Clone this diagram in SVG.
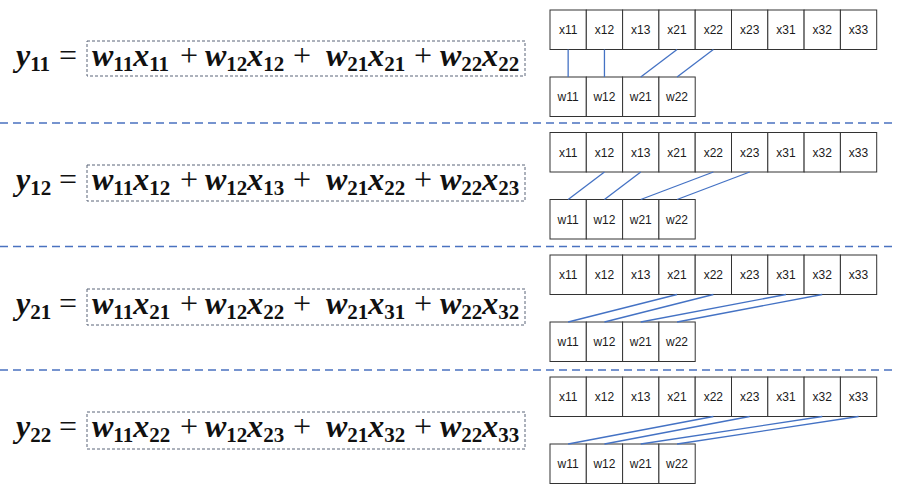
<svg xmlns="http://www.w3.org/2000/svg" width="903" height="496" viewBox="0 0 903 496">
<style>
.cell{fill:#fff;stroke:#333;stroke-width:1}
.lbl{font-family:"Liberation Sans",Arial,sans-serif;font-size:12px;fill:#1a1a1a;text-anchor:middle}
.eq{font-family:"Liberation Serif","Times New Roman",serif;font-size:32px;font-weight:bold;font-style:italic;fill:#111}
.sb{font-size:21px;font-style:normal}
.op{font-style:normal;font-weight:normal}
.ebox{fill:none;stroke:#5a6478;stroke-width:1;stroke-dasharray:3 2}
.sep{stroke:#4a72c0;stroke-width:1.5;stroke-dasharray:8 5}
.con{stroke:#4472c4;stroke-width:1.3}
</style>
<rect width="903" height="496" fill="#fff"/>
<g id="separators">
<line class="sep" x1="0" y1="123" x2="893" y2="123"/>
<line class="sep" x1="0" y1="246.5" x2="893" y2="246.5"/>
<line class="sep" x1="0" y1="370" x2="893" y2="370"/>
</g>
<g id="eq1">
<rect class="ebox" x="87" y="41" width="438" height="35"/>
<text class="eq" y="66"><tspan x="16">y</tspan><tspan class="sb" dy="5">11</tspan><tspan class="op" x="59" dy="-5">=</tspan><tspan x="92">w</tspan><tspan class="sb" dy="5">11</tspan><tspan dy="-5">x</tspan><tspan class="sb" dy="5">11</tspan><tspan class="op" x="180" dy="-5">+</tspan><tspan x="205">w</tspan><tspan class="sb" dy="5">12</tspan><tspan dy="-5">x</tspan><tspan class="sb" dy="5">12</tspan><tspan class="op" x="293" dy="-5">+</tspan><tspan x="326">w</tspan><tspan class="sb" dy="5">21</tspan><tspan dy="-5">x</tspan><tspan class="sb" dy="5">21</tspan><tspan class="op" x="414" dy="-5">+</tspan><tspan x="440">w</tspan><tspan class="sb" dy="5">22</tspan><tspan dy="-5">x</tspan><tspan class="sb" dy="5">22</tspan></text>
</g>
<g id="eq2">
<rect class="ebox" x="87" y="165" width="438" height="36"/>
<text class="eq" y="190"><tspan x="16">y</tspan><tspan class="sb" dy="5">12</tspan><tspan class="op" x="59" dy="-5">=</tspan><tspan x="92">w</tspan><tspan class="sb" dy="5">11</tspan><tspan dy="-5">x</tspan><tspan class="sb" dy="5">12</tspan><tspan class="op" x="180" dy="-5">+</tspan><tspan x="205">w</tspan><tspan class="sb" dy="5">12</tspan><tspan dy="-5">x</tspan><tspan class="sb" dy="5">13</tspan><tspan class="op" x="293" dy="-5">+</tspan><tspan x="326">w</tspan><tspan class="sb" dy="5">21</tspan><tspan dy="-5">x</tspan><tspan class="sb" dy="5">22</tspan><tspan class="op" x="414" dy="-5">+</tspan><tspan x="440">w</tspan><tspan class="sb" dy="5">22</tspan><tspan dy="-5">x</tspan><tspan class="sb" dy="5">23</tspan></text>
</g>
<g id="eq3">
<rect class="ebox" x="87" y="289" width="438" height="36"/>
<text class="eq" y="314"><tspan x="16">y</tspan><tspan class="sb" dy="5">21</tspan><tspan class="op" x="59" dy="-5">=</tspan><tspan x="92">w</tspan><tspan class="sb" dy="5">11</tspan><tspan dy="-5">x</tspan><tspan class="sb" dy="5">21</tspan><tspan class="op" x="180" dy="-5">+</tspan><tspan x="205">w</tspan><tspan class="sb" dy="5">12</tspan><tspan dy="-5">x</tspan><tspan class="sb" dy="5">22</tspan><tspan class="op" x="293" dy="-5">+</tspan><tspan x="326">w</tspan><tspan class="sb" dy="5">21</tspan><tspan dy="-5">x</tspan><tspan class="sb" dy="5">31</tspan><tspan class="op" x="414" dy="-5">+</tspan><tspan x="440">w</tspan><tspan class="sb" dy="5">22</tspan><tspan dy="-5">x</tspan><tspan class="sb" dy="5">32</tspan></text>
</g>
<g id="eq4">
<rect class="ebox" x="87" y="412" width="438" height="37"/>
<text class="eq" y="437"><tspan x="16">y</tspan><tspan class="sb" dy="5">22</tspan><tspan class="op" x="59" dy="-5">=</tspan><tspan x="92">w</tspan><tspan class="sb" dy="5">11</tspan><tspan dy="-5">x</tspan><tspan class="sb" dy="5">22</tspan><tspan class="op" x="180" dy="-5">+</tspan><tspan x="205">w</tspan><tspan class="sb" dy="5">12</tspan><tspan dy="-5">x</tspan><tspan class="sb" dy="5">23</tspan><tspan class="op" x="293" dy="-5">+</tspan><tspan x="326">w</tspan><tspan class="sb" dy="5">21</tspan><tspan dy="-5">x</tspan><tspan class="sb" dy="5">32</tspan><tspan class="op" x="414" dy="-5">+</tspan><tspan x="440">w</tspan><tspan class="sb" dy="5">22</tspan><tspan dy="-5">x</tspan><tspan class="sb" dy="5">33</tspan></text>
</g>

<g id="b1-x"><rect class="cell" x="550" y="10" width="36.3" height="39.5"/><text class="lbl" x="568.15" y="34">x11</text><rect class="cell" x="586.3" y="10" width="36.3" height="39.5"/><text class="lbl" x="604.45" y="34">x12</text><rect class="cell" x="622.6" y="10" width="36.3" height="39.5"/><text class="lbl" x="640.75" y="34">x13</text><rect class="cell" x="658.9" y="10" width="36.3" height="39.5"/><text class="lbl" x="677.05" y="34">x21</text><rect class="cell" x="695.2" y="10" width="36.3" height="39.5"/><text class="lbl" x="713.35" y="34">x22</text><rect class="cell" x="731.5" y="10" width="36.3" height="39.5"/><text class="lbl" x="749.65" y="34">x23</text><rect class="cell" x="767.8" y="10" width="36.3" height="39.5"/><text class="lbl" x="785.95" y="34">x31</text><rect class="cell" x="804.1" y="10" width="36.3" height="39.5"/><text class="lbl" x="822.25" y="34">x32</text><rect class="cell" x="840.4" y="10" width="36.3" height="39.5"/><text class="lbl" x="858.55" y="34">x33</text></g>
<g id="b1-w"><rect class="cell" x="550" y="77" width="36.3" height="39.5"/><text class="lbl" x="568.15" y="101">w11</text><rect class="cell" x="586.3" y="77" width="36.3" height="39.5"/><text class="lbl" x="604.45" y="101">w12</text><rect class="cell" x="622.6" y="77" width="36.3" height="39.5"/><text class="lbl" x="640.75" y="101">w21</text><rect class="cell" x="658.9" y="77" width="36.3" height="39.5"/><text class="lbl" x="677.05" y="101">w22</text></g>

<g id="b2-x"><rect class="cell" x="550" y="132.5" width="36.3" height="39.5"/><text class="lbl" x="568.15" y="156.5">x11</text><rect class="cell" x="586.3" y="132.5" width="36.3" height="39.5"/><text class="lbl" x="604.45" y="156.5">x12</text><rect class="cell" x="622.6" y="132.5" width="36.3" height="39.5"/><text class="lbl" x="640.75" y="156.5">x13</text><rect class="cell" x="658.9" y="132.5" width="36.3" height="39.5"/><text class="lbl" x="677.05" y="156.5">x21</text><rect class="cell" x="695.2" y="132.5" width="36.3" height="39.5"/><text class="lbl" x="713.35" y="156.5">x22</text><rect class="cell" x="731.5" y="132.5" width="36.3" height="39.5"/><text class="lbl" x="749.65" y="156.5">x23</text><rect class="cell" x="767.8" y="132.5" width="36.3" height="39.5"/><text class="lbl" x="785.95" y="156.5">x31</text><rect class="cell" x="804.1" y="132.5" width="36.3" height="39.5"/><text class="lbl" x="822.25" y="156.5">x32</text><rect class="cell" x="840.4" y="132.5" width="36.3" height="39.5"/><text class="lbl" x="858.55" y="156.5">x33</text></g>
<g id="b2-w"><rect class="cell" x="550" y="199.5" width="36.3" height="39.5"/><text class="lbl" x="568.15" y="223.5">w11</text><rect class="cell" x="586.3" y="199.5" width="36.3" height="39.5"/><text class="lbl" x="604.45" y="223.5">w12</text><rect class="cell" x="622.6" y="199.5" width="36.3" height="39.5"/><text class="lbl" x="640.75" y="223.5">w21</text><rect class="cell" x="658.9" y="199.5" width="36.3" height="39.5"/><text class="lbl" x="677.05" y="223.5">w22</text></g>

<g id="b3-x"><rect class="cell" x="550" y="255" width="36.3" height="39.5"/><text class="lbl" x="568.15" y="279">x11</text><rect class="cell" x="586.3" y="255" width="36.3" height="39.5"/><text class="lbl" x="604.45" y="279">x12</text><rect class="cell" x="622.6" y="255" width="36.3" height="39.5"/><text class="lbl" x="640.75" y="279">x13</text><rect class="cell" x="658.9" y="255" width="36.3" height="39.5"/><text class="lbl" x="677.05" y="279">x21</text><rect class="cell" x="695.2" y="255" width="36.3" height="39.5"/><text class="lbl" x="713.35" y="279">x22</text><rect class="cell" x="731.5" y="255" width="36.3" height="39.5"/><text class="lbl" x="749.65" y="279">x23</text><rect class="cell" x="767.8" y="255" width="36.3" height="39.5"/><text class="lbl" x="785.95" y="279">x31</text><rect class="cell" x="804.1" y="255" width="36.3" height="39.5"/><text class="lbl" x="822.25" y="279">x32</text><rect class="cell" x="840.4" y="255" width="36.3" height="39.5"/><text class="lbl" x="858.55" y="279">x33</text></g>
<g id="b3-w"><rect class="cell" x="550" y="322" width="36.3" height="39.5"/><text class="lbl" x="568.15" y="346">w11</text><rect class="cell" x="586.3" y="322" width="36.3" height="39.5"/><text class="lbl" x="604.45" y="346">w12</text><rect class="cell" x="622.6" y="322" width="36.3" height="39.5"/><text class="lbl" x="640.75" y="346">w21</text><rect class="cell" x="658.9" y="322" width="36.3" height="39.5"/><text class="lbl" x="677.05" y="346">w22</text></g>

<g id="b4-x"><rect class="cell" x="550" y="377" width="36.3" height="39.5"/><text class="lbl" x="568.15" y="401">x11</text><rect class="cell" x="586.3" y="377" width="36.3" height="39.5"/><text class="lbl" x="604.45" y="401">x12</text><rect class="cell" x="622.6" y="377" width="36.3" height="39.5"/><text class="lbl" x="640.75" y="401">x13</text><rect class="cell" x="658.9" y="377" width="36.3" height="39.5"/><text class="lbl" x="677.05" y="401">x21</text><rect class="cell" x="695.2" y="377" width="36.3" height="39.5"/><text class="lbl" x="713.35" y="401">x22</text><rect class="cell" x="731.5" y="377" width="36.3" height="39.5"/><text class="lbl" x="749.65" y="401">x23</text><rect class="cell" x="767.8" y="377" width="36.3" height="39.5"/><text class="lbl" x="785.95" y="401">x31</text><rect class="cell" x="804.1" y="377" width="36.3" height="39.5"/><text class="lbl" x="822.25" y="401">x32</text><rect class="cell" x="840.4" y="377" width="36.3" height="39.5"/><text class="lbl" x="858.55" y="401">x33</text></g>
<g id="b4-w"><rect class="cell" x="550" y="444" width="36.3" height="39.5"/><text class="lbl" x="568.15" y="468">w11</text><rect class="cell" x="586.3" y="444" width="36.3" height="39.5"/><text class="lbl" x="604.45" y="468">w12</text><rect class="cell" x="622.6" y="444" width="36.3" height="39.5"/><text class="lbl" x="640.75" y="468">w21</text><rect class="cell" x="658.9" y="444" width="36.3" height="39.5"/><text class="lbl" x="677.05" y="468">w22</text></g>

<g id="connectors">
<line class="con" x1="568.15" y1="49.5" x2="568.15" y2="77"/>
<line class="con" x1="604.45" y1="49.5" x2="604.45" y2="77"/>
<line class="con" x1="677.05" y1="49.5" x2="640.75" y2="77"/>
<line class="con" x1="713.35" y1="49.5" x2="677.05" y2="77"/>
<line class="con" x1="604.45" y1="172" x2="568.15" y2="199.5"/>
<line class="con" x1="640.75" y1="172" x2="604.45" y2="199.5"/>
<line class="con" x1="713.35" y1="172" x2="640.75" y2="199.5"/>
<line class="con" x1="749.65" y1="172" x2="677.05" y2="199.5"/>
<line class="con" x1="677.05" y1="294.5" x2="568.15" y2="322"/>
<line class="con" x1="713.35" y1="294.5" x2="604.45" y2="322"/>
<line class="con" x1="785.95" y1="294.5" x2="640.75" y2="322"/>
<line class="con" x1="822.25" y1="294.5" x2="677.05" y2="322"/>
<line class="con" x1="713.35" y1="416.5" x2="568.15" y2="444"/>
<line class="con" x1="749.65" y1="416.5" x2="604.45" y2="444"/>
<line class="con" x1="822.25" y1="416.5" x2="640.75" y2="444"/>
<line class="con" x1="858.55" y1="416.5" x2="677.05" y2="444"/>
</g>
</svg>
